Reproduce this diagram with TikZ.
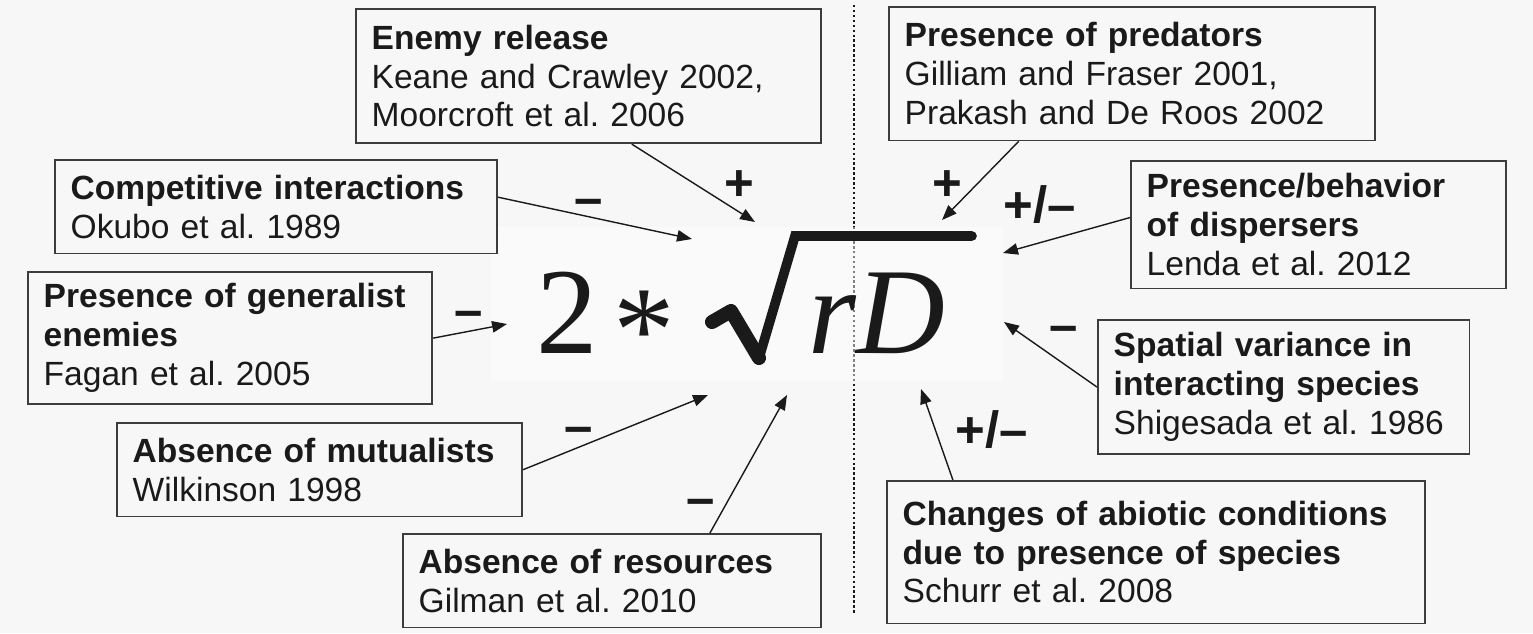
\documentclass[tikz,border=0pt]{standalone}
\usepackage{fontspec}
\setmainfont{Liberation Sans}
\newfontfamily\eqfont{Liberation Serif}
\usetikzlibrary{arrows.meta,positioning,calc}
\definecolor{paper}{HTML}{F7F7F7}
\definecolor{ink}{HTML}{1A1A1A}
\definecolor{frame}{HTML}{3C3C3C}
\frenchspacing
\tikzset{
  refbox/.style={draw=frame,line width=1pt,fill=paper,anchor=north west,align=left,
    inner xsep=9pt,inner ysep=0pt,text=ink,font=\fontsize{19.1}{22.1}\selectfont},
  sign/.style={anchor=base,inner sep=0pt,text=ink,font=\fontsize{29}{30}\selectfont\bfseries},
  formula/.style={anchor=base,inner sep=0pt,text=ink,font=\fontsize{70}{72}\selectfont\eqfont},
  link/.style={draw=ink,line width=0.8pt,-{Triangle[length=8.5pt,width=6.5pt]}}
}

\begin{document}
\begin{tikzpicture}[x=0.02cm,y=-0.02cm]
  \fill[paper] (0,0) rectangle (1533,633);
  \useasboundingbox (0,0) rectangle (1533,633);
  \draw[ink,line width=1.4pt,dash pattern=on 1.4pt off 1.4pt] (854,5) -- (854,615);
  \fill[white,opacity=0.45] (491,227) rectangle (1003,381);

  \node[formula] (two) at (567,353) {2};
  \node[formula] (star) at (644,371) {*};
  \node[formula,anchor=base west] (rD) at (808,353) {\itshape rD};
  \draw[ink,line width=8pt,line cap=round,line join=round] (712,322) -- (731,311) -- (759,358);
  \draw[ink,line width=5.5pt,line cap=round,line join=miter] (759,358) -- (795,236) -- (972,236);

  \coordinate (tEnemy) at (755,222);
  \coordinate (tCompet) at (692,239);
  \coordinate (tGeneral) at (507,324);
  \coordinate (tMutual) at (708,395);
  \coordinate (tResour) at (787,395);
  \coordinate (tPredat) at (942,220);
  \coordinate (tDispers) at (1003,253);
  \coordinate (tSpatial) at (1004,322);
  \coordinate (tAbiotic) at (921,389);

  \node[refbox,text width=246.7pt,minimum height=76.5pt] (enemy) at (355,8)
    {\textbf{Enemy release}\\Keane and Crawley 2002,\\Moorcroft et al. 2006};
  \node[refbox,text width=233.7pt,minimum height=53.3pt] (compet) at (54,159)
    {\textbf{Competitive interactions}\\Okubo et al. 1989};
  \node[refbox,text width=212.2pt,minimum height=75.4pt] (general) at (27,271)
    {\textbf{Presence of generalist}\\\textbf{enemies}\\Fagan et al. 2005};
  \node[refbox,text width=212.7pt,minimum height=53.3pt] (mutual) at (116,422)
    {\textbf{Absence of mutualists}\\Wilkinson 1998};
  \node[refbox,text width=220.1pt,minimum height=53.3pt] (resour) at (402,533)
    {\textbf{Absence of resources}\\Gilman et al. 2010};
  \node[refbox,text width=258.6pt,minimum height=76pt] (predat) at (888,6)
    {\textbf{Presence of predators}\\Gilliam and Fraser 2001,\\Prakash and De Roos 2002};
  \node[refbox,text width=195.7pt,minimum height=72.6pt] (dispers) at (1130,160)
    {\textbf{Presence/behavior}\\\textbf{of dispersers}\\Lenda et al. 2012};
  \node[refbox,text width=193.5pt,minimum height=76.5pt] (spatial) at (1097,319)
    {\textbf{Spatial variance in}\\\textbf{interacting species}\\Shigesada et al. 1986};
  \node[refbox,text width=288.1pt,minimum height=81.1pt] (abiotic) at (886,480)
    {\textbf{Changes of abiotic conditions}\\\textbf{due to presence of species}\\Schurr et al. 2008};

  \draw[link] ($(enemy.south west)!0.593!(enemy.south east)$) -- (tEnemy);
  \draw[link] ($(compet.north east)!0.4!(compet.south east)$) -- (tCompet);
  \draw[link] (general.east) -- (tGeneral);
  \draw[link] (mutual.east) -- (tMutual);
  \draw[link] ($(resour.north west)!0.733!(resour.north east)$) -- (tResour);
  \draw[link] ($(predat.south west)!0.268!(predat.south east)$) -- (tPredat);
  \draw[link] ($(dispers.north west)!0.445!(dispers.south west)$) -- (tDispers);
  \draw[link] (spatial.west) -- (tSpatial);
  \draw[link] ($(abiotic.north west)!0.124!(abiotic.north east)$) -- (tAbiotic);

  \node[sign] (sEnemy) at (739,200.5) {+};
  \node[sign] (sCompet) at (589,215) {–};
  \node[sign] (sGeneral) at (469,327) {–};
  \node[sign] (sMutual) at (579,443) {–};
  \node[sign] (sResour) at (701,515) {–};
  \node[sign] (sPredat) at (947,200.5) {+};
  \node[sign] (sDispers) at (1040,222) {+/–};
  \node[sign] (sSpatial) at (1064,342) {–};
  \node[sign] (sAbiotic) at (992,447) {+/–};
\end{tikzpicture}
\end{document}
